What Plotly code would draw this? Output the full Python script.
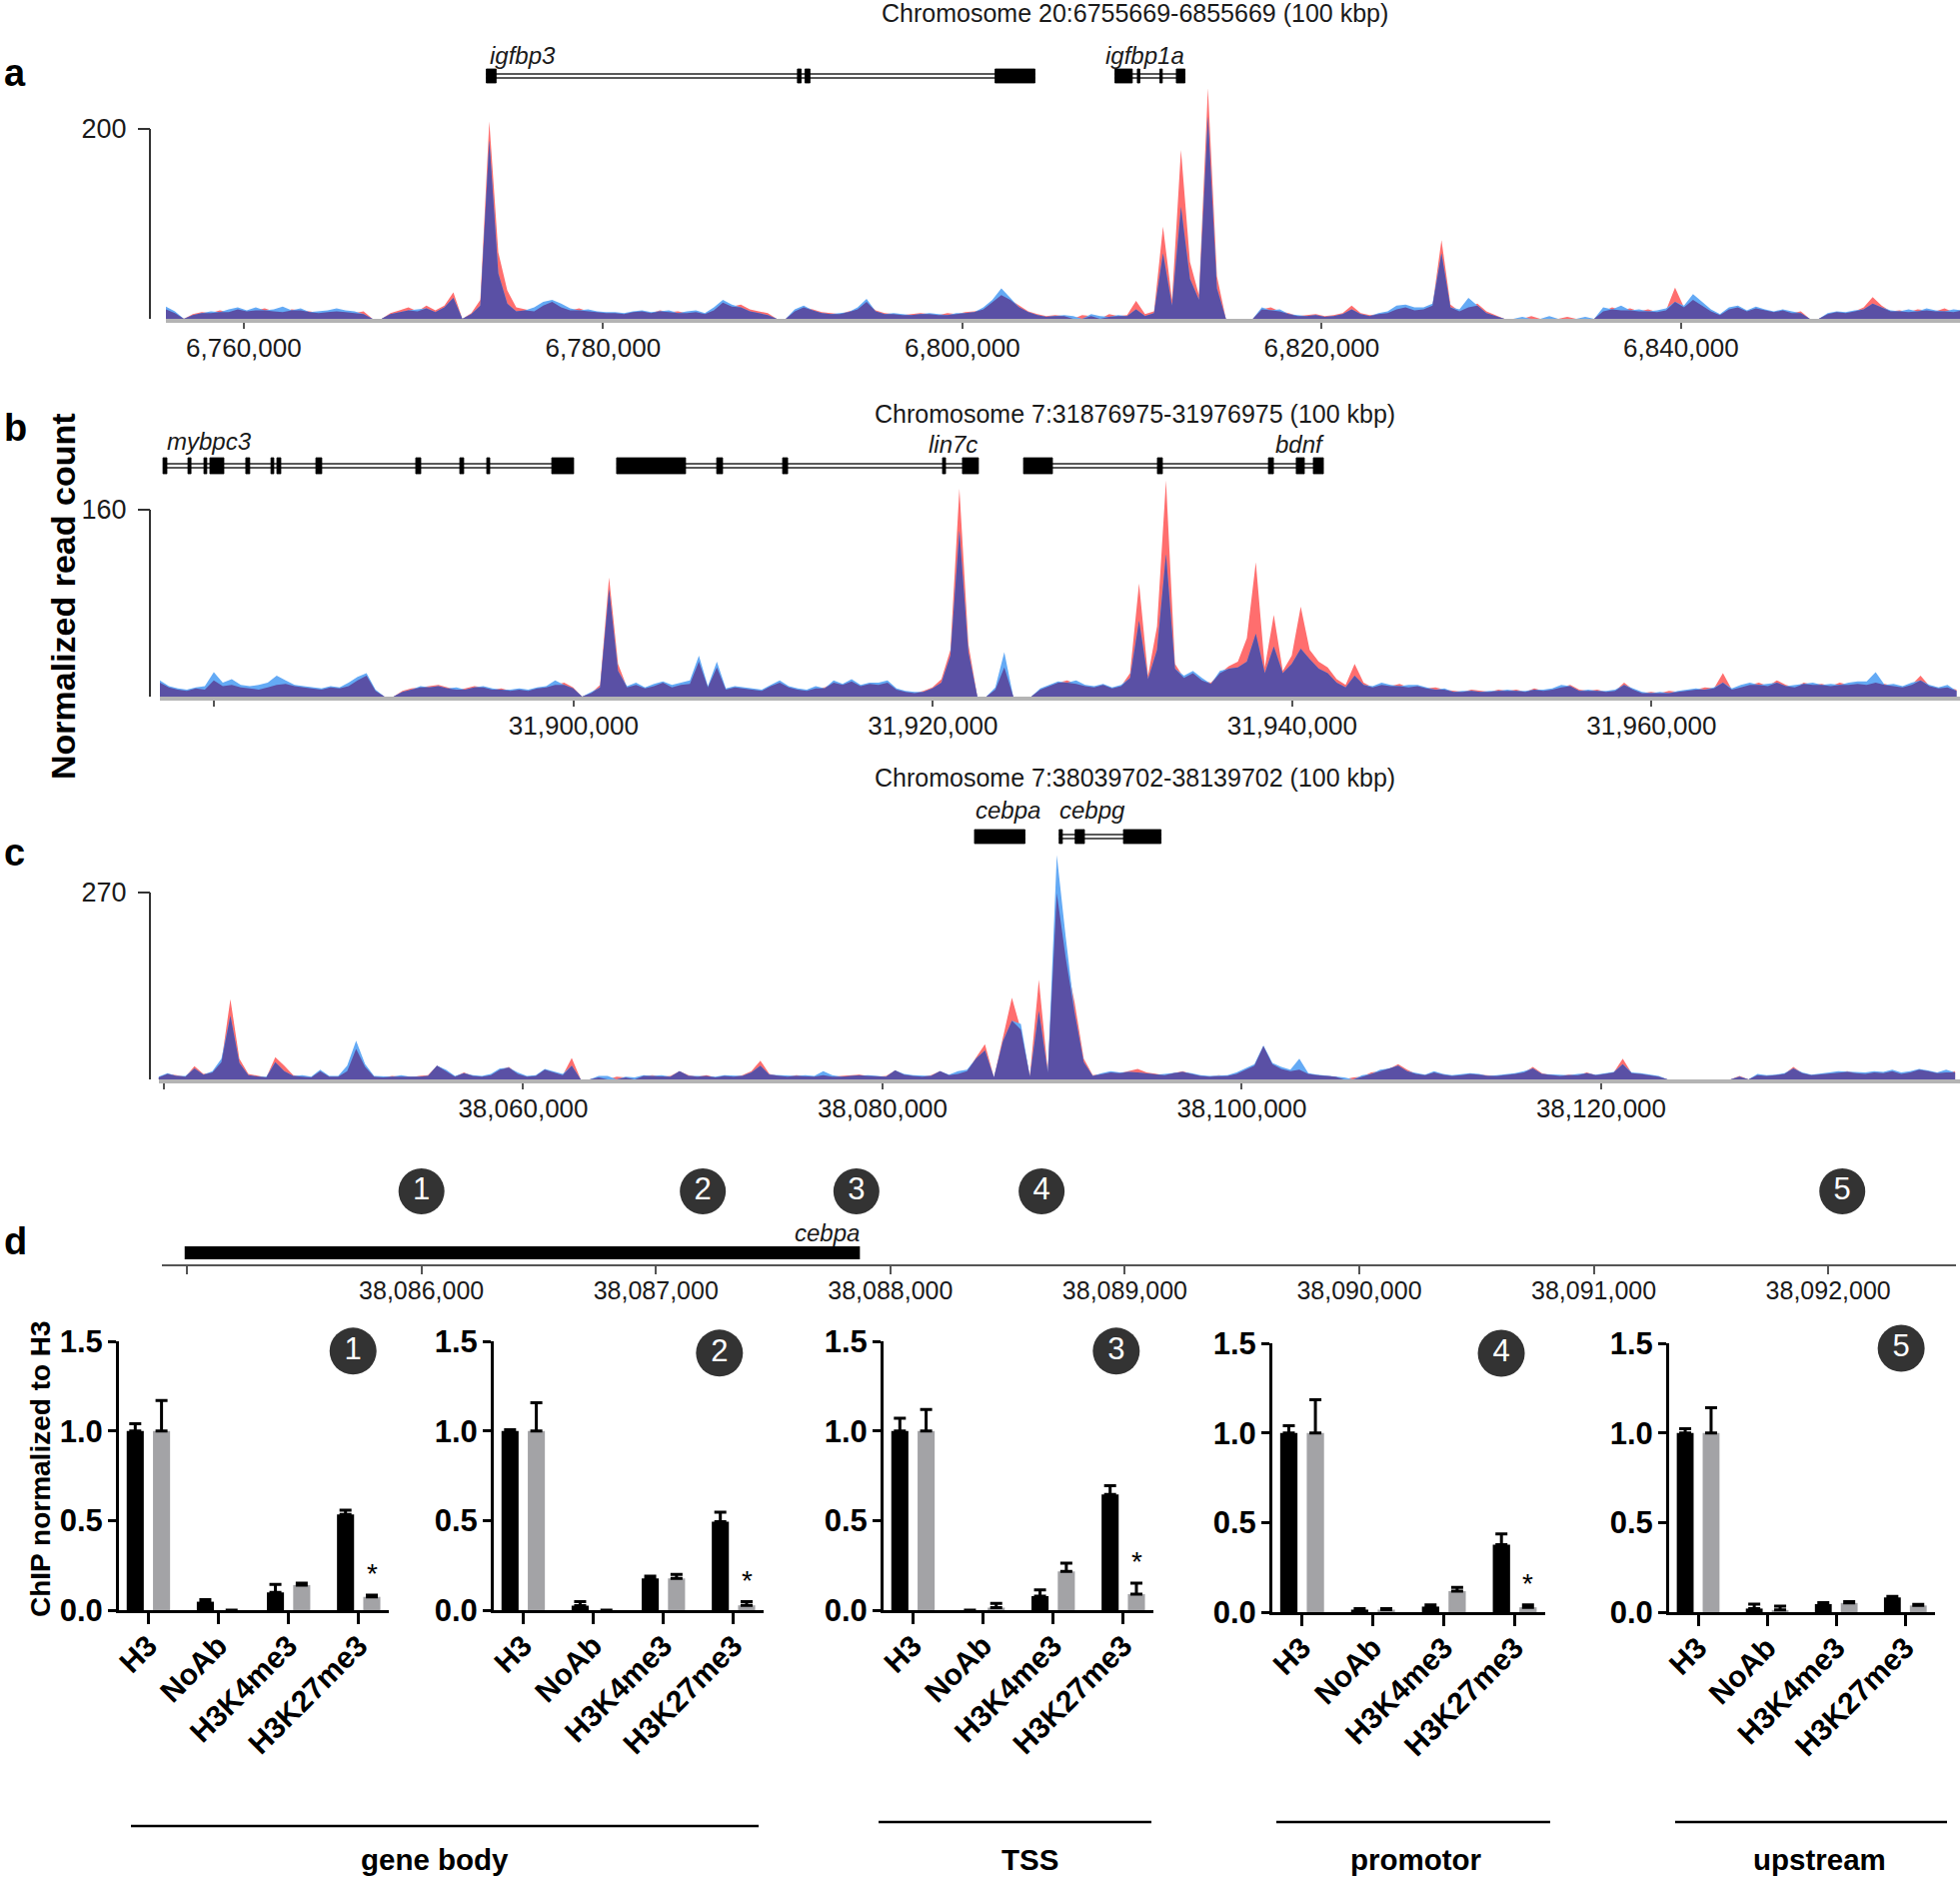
import plotly.graph_objects as go

W, H = 1961, 1880
FONT = "Liberation Sans, Arial, Helvetica, sans-serif"
RED, BLUE, PURPLE = "#ff6e6e", "#64aaf5", "#5a50a5"
BLACK_BAR, GRAY_BAR = "#000000", "#a3a3a6"
TXT = "#1a1a1a"
BIN_BP = 500

# ---------------- panel a : coverage (0.5 kb bins) ----------------
A_START = 6755669
A_TITLE = "Chromosome 20:6755669-6855669 (100 kbp)"
A_RED = [10, 6, 0, 5, 7, 6, 9, 7, 10, 8,
         9, 11, 8, 7, 10, 9, 8, 6, 7, 8,
         7, 6, 8, 0, 0, 6, 9, 12, 8, 14,
         9, 14, 28, 0, 6, 20, 208, 70, 30, 12,
         10, 8, 14, 18, 12, 9, 11, 8, 7, 6,
         6, 5, 7, 8, 6, 9, 7, 8, 6, 7,
         5, 9, 17, 13, 15, 10, 8, 6, 0, 0,
         8, 12, 10, 7, 6, 5, 8, 10, 18, 9,
         6, 5, 4, 5, 6, 5, 4, 6, 5, 7,
         8, 10, 18, 25, 20, 14, 8, 5, 3, 4,
         3, 0, 4, 3, 0, 5, 3, 4, 19, 5,
         8, 97, 20, 178, 60, 25, 243, 45, 0, 0,
         0, 0, 10, 12, 8, 6, 3, 4, 5, 3,
         4, 6, 14, 6, 4, 5, 6, 10, 12, 9,
         10, 14, 83, 15, 8, 12, 16, 8, 4, 0,
         0, 0, 3, 0, 0, 0, 2, 0, 0, 0,
         8, 12, 9, 11, 8, 10, 7, 9, 33, 12,
         20, 14, 8, 4, 10, 12, 8, 11, 9, 7,
         9, 6, 8, 0, 0, 5, 7, 6, 8, 12,
         23, 14, 8, 9, 7, 10, 9, 8, 11, 7, 10]
A_BLUE = [13, 8, 0, 4, 6, 8, 7, 10, 12, 9,
          12, 9, 10, 13, 9, 11, 7, 8, 9, 11,
          9, 8, 5, 0, 0, 5, 7, 9, 10, 11,
          7, 12, 22, 0, 5, 14, 188, 48, 16, 8,
          9, 12, 18, 20, 16, 11, 9, 10, 8, 7,
          7, 6, 8, 9, 7, 8, 9, 6, 8, 9,
          6, 12, 20, 15, 12, 8, 6, 4, 0, 0,
          10, 14, 9, 6, 5, 6, 7, 12, 21, 8,
          5, 6, 5, 4, 5, 6, 5, 4, 6, 6,
          7, 12, 20, 32, 22, 12, 7, 4, 2, 3,
          4, 3, 0, 5, 3, 2, 4, 3, 10, 3,
          6, 69, 14, 118, 42, 20, 213, 32, 0, 0,
          0, 0, 12, 9, 10, 5, 4, 3, 4, 2,
          3, 5, 10, 5, 3, 6, 8, 14, 15, 12,
          12, 16, 69, 12, 10, 22, 14, 6, 3, 0,
          0, 2, 0, 0, 3, 0, 0, 0, 2, 0,
          12, 10, 14, 9, 10, 8, 9, 11, 18, 14,
          26, 18, 10, 5, 12, 14, 9, 13, 10, 8,
          10, 8, 6, 0, 0, 6, 8, 7, 9, 10,
          16, 12, 9, 8, 10, 8, 11, 9, 8, 10, 9]
A_XTICKS = [6760000, 6780000, 6800000, 6820000, 6840000]
A_XTICKTEXT = ["6,760,000", "6,780,000", "6,800,000", "6,820,000", "6,840,000"]
A_YTICK = 200
A_GENES = [
    ("igfbp3", [(6773500, 6774050), (6790820, 6791030), (6791240, 6791520), (6801820, 6804040)]),
    ("igfbp1a", [(6808490, 6809460), (6809740, 6809880), (6810990, 6811130), (6811910, 6812390)]),
]

# ---------------- panel b ----------------
B_START = 31876975
B_TITLE = "Chromosome 7:31876975-31976975 (100 kbp)"
B_RED = [12, 8, 6, 5, 7, 6, 14, 9, 10, 8,
         7, 6, 8, 10, 11, 9, 8, 7, 6, 8,
         7, 9, 14, 18, 5, 0, 0, 5, 7, 8,
         9, 10, 8, 6, 7, 9, 8, 6, 7, 5,
         6, 5, 7, 8, 10, 12, 8, 0, 3, 10,
         102, 28, 8, 10, 7, 9, 12, 8, 10, 11,
         30, 8, 25, 6, 8, 7, 6, 5, 9, 12,
         8, 6, 5, 7, 8, 12, 10, 13, 9, 11,
         10, 12, 6, 4, 3, 5, 8, 15, 40, 178,
         45, 0, 0, 6, 25, 0, 0, 0, 6, 9,
         12, 14, 11, 9, 8, 10, 7, 9, 20, 97,
         18, 60, 185, 28, 16, 20, 14, 12, 20, 26,
         30, 50, 115, 25, 70, 22, 35, 77, 40, 30,
         25, 15, 10, 28, 12, 8, 10, 9, 11, 8,
         9, 7, 8, 6, 5, 4, 6, 5, 4, 6,
         5, 6, 4, 7, 5, 6, 8, 10, 6, 5,
         6, 4, 5, 12, 6, 3, 4, 3, 5, 4,
         5, 6, 8, 7, 20, 6, 8, 10, 12, 9,
         14, 10, 8, 12, 10, 11, 9, 12, 10, 11,
         10, 12, 11, 9, 8, 10, 18, 9, 7, 8, 6]
B_BLUE = [14, 9, 7, 6, 8, 9, 21, 12, 15, 10,
          9, 10, 12, 18, 14, 10, 9, 8, 7, 9,
          8, 12, 17, 20, 6, 0, 0, 4, 6, 9,
          8, 9, 7, 8, 6, 8, 9, 7, 6, 6,
          7, 6, 8, 9, 14, 10, 7, 0, 4, 8,
          92, 22, 9, 12, 8, 11, 13, 10, 12, 14,
          35, 9, 30, 7, 9, 8, 7, 6, 10, 14,
          9, 7, 6, 9, 7, 14, 11, 15, 10, 12,
          12, 14, 7, 5, 4, 4, 7, 12, 35, 142,
          38, 0, 0, 8, 38, 0, 0, 0, 7, 10,
          13, 12, 14, 10, 9, 11, 8, 10, 16, 65,
          15, 40, 122, 24, 18, 22, 16, 11, 22, 24,
          25, 30, 54, 20, 43, 20, 28, 41, 32, 24,
          20, 12, 8, 18, 10, 9, 12, 10, 9, 10,
          10, 8, 6, 7, 4, 5, 5, 4, 5, 5,
          6, 5, 5, 6, 6, 7, 10, 9, 5, 6,
          5, 5, 6, 10, 7, 4, 3, 4, 3, 5,
          6, 7, 6, 8, 12, 7, 10, 12, 10, 11,
          12, 9, 10, 11, 12, 10, 11, 10, 12, 13,
          13, 21, 10, 11, 9, 12, 14, 10, 8, 10, 5]
B_XTICKS = [31880000, 31900000, 31920000, 31940000, 31960000]
B_XTICKTEXT = ["", "31,900,000", "31,920,000", "31,940,000", "31,960,000"]
B_YTICK = 160
B_GENES = [
    ("mybpc3", [(31877145, 31877365), (31878535, 31878705), (31879425, 31879585), (31879755, 31880535),
                (31881755, 31881975), (31883155, 31883315), (31883485, 31883705), (31885655, 31885985),
                (31891215, 31891495), (31893665, 31893885), (31895165, 31895335), (31898785, 31900005)]),
    ("lin7c", [(31902395, 31906235), (31907965, 31908295), (31911635, 31911915), (31920535, 31920705),
               (31921645, 31922535)]),
    ("bdnf", [(31925045, 31926655), (31932495, 31932775), (31938675, 31938955), (31940225, 31940675),
              (31941175, 31941735)]),
]

# ---------------- panel c ----------------
C_START = 38039702
C_TITLE = "Chromosome 7:38039702-38139702 (100 kbp)"
C_RED = [3, 8, 6, 4, 19, 8, 10, 25, 116, 30,
         8, 5, 3, 32, 20, 6, 4, 3, 12, 4,
         4, 12, 44, 18, 4, 3, 5, 4, 3, 5,
         6, 20, 12, 4, 10, 5, 4, 6, 14, 18,
         8, 4, 5, 14, 10, 6, 31, 0, 0, 3,
         0, 4, 3, 0, 5, 6, 4, 5, 12, 6,
         4, 6, 3, 5, 4, 6, 12, 27, 8, 5,
         4, 6, 5, 4, 6, 4, 5, 6, 7, 5,
         4, 5, 13, 7, 5, 4, 6, 12, 6, 8,
         12, 32, 51, 3, 60, 118, 72, 5, 144, 12,
         269, 175, 110, 30, 6, 8, 10, 9, 12, 15,
         10, 8, 6, 9, 12, 8, 5, 4, 6, 5,
         8, 14, 20, 48, 22, 15, 12, 14, 8, 6,
         5, 4, 0, 3, 4, 10, 12, 15, 22, 14,
         8, 6, 10, 7, 5, 6, 8, 7, 6, 5,
         6, 8, 10, 18, 9, 6, 5, 7, 6, 10,
         6, 8, 10, 30, 9, 8, 6, 4, 0, 0,
         0, 0, 0, 0, 0, 0, 5, 0, 6, 5,
         6, 8, 18, 9, 6, 7, 8, 10, 12, 9,
         8, 10, 9, 12, 8, 10, 14, 12, 9, 10, 12]
C_BLUE = [4, 9, 5, 5, 16, 7, 12, 30, 92, 24,
          6, 4, 4, 25, 12, 5, 6, 4, 14, 5,
          5, 20, 56, 22, 5, 4, 4, 6, 4, 4,
          5, 20, 14, 5, 9, 6, 5, 8, 16, 17,
          10, 5, 6, 15, 12, 8, 20, 0, 0, 5,
          5, 0, 4, 3, 6, 5, 6, 4, 12, 5,
          5, 5, 4, 6, 5, 5, 10, 20, 7, 6,
          5, 5, 6, 5, 12, 6, 4, 5, 6, 6,
          5, 4, 13, 8, 6, 5, 5, 12, 7, 12,
          14, 30, 42, 3, 55, 85, 80, 4, 99, 10,
          324, 205, 95, 25, 5, 9, 12, 10, 11, 10,
          9, 7, 8, 10, 11, 9, 6, 5, 5, 6,
          10, 16, 22, 49, 24, 18, 14, 30, 9, 7,
          6, 5, 3, 0, 6, 8, 14, 16, 20, 12,
          9, 7, 12, 8, 6, 7, 9, 8, 5, 6,
          7, 9, 12, 16, 8, 7, 6, 6, 8, 9,
          7, 9, 11, 22, 10, 9, 7, 5, 0, 0,
          0, 0, 0, 0, 0, 0, 4, 0, 8, 6,
          7, 9, 16, 10, 7, 8, 10, 12, 11, 10,
          10, 12, 11, 14, 10, 12, 15, 13, 10, 14, 10]
C_XTICKS = [38040000, 38060000, 38080000, 38100000, 38120000]
C_XTICKTEXT = ["", "38,060,000", "38,080,000", "38,100,000", "38,120,000"]
C_YTICK = 270
C_GENES = [
    ("cebpa", [(38085120, 38087930)]),
    ("cebpg", [(38089832, 38090012), (38090722, 38091242), (38093412, 38095502)]),
]

# ---------------- panel d : gene model & primer sites ----------------
D_GENE = (38084990, 38087870)
D_SITES = [38086000, 38087200, 38087855, 38088645, 38092060]
D_SITE_LABELS = ["1", "2", "3", "4", "5"]
D_XTICKS = [38085000, 38086000, 38087000, 38088000, 38089000, 38090000, 38091000, 38092000]
D_XTICKTEXT = ["", "38,086,000", "38,087,000", "38,088,000", "38,089,000", "38,090,000", "38,091,000", "38,092,000"]

# ---------------- ChIP-qPCR bars ----------------
CATEGORIES = ["H3", "NoAb", "H3K4me3", "H3K27me3"]
BLACK_MEAN = [[1.0, 0.047, 0.099, 0.534],
              [1.0, 0.025, 0.177, 0.493],
              [1.0, 0.0, 0.078, 0.645],
              [1.0, 0.014, 0.031, 0.377],
              [1.0, 0.020, 0.045, 0.082]]
BLACK_SEM = [[0.040, 0.011, 0.045, 0.023],
             [0.007, 0.022, 0.013, 0.054],
             [0.070, 0.0, 0.035, 0.049],
             [0.040, 0.006, 0.010, 0.060],
             [0.023, 0.025, 0.008, 0.006]]
GRAY_MEAN = [[1.0, 0.0, 0.140, 0.074],
             [1.0, 0.0, 0.177, 0.027],
             [1.0, 0.014, 0.216, 0.089],
             [1.0, 0.014, 0.117, 0.027],
             [1.0, 0.012, 0.051, 0.037]]
GRAY_SEM = [[0.170, 0.0, 0.010, 0.010],
            [0.157, 0.0, 0.023, 0.020],
            [0.120, 0.023, 0.046, 0.061],
            [0.185, 0.006, 0.021, 0.013],
            [0.140, 0.021, 0.007, 0.006]]
SIGNIFICANT = [True, True, True, True, False]
REGION_GROUPS = [("gene body", 131, 759, 435), ("TSS", 879, 1152, 1030),
                 ("promotor", 1277, 1551, 1417), ("upstream", 1676, 1948, 1820)]


def PX(X):
    return X / W


def PY(Y):
    return 1 - Y / H


def axn(n, kind):
    return kind if n == 1 else f"{kind}{n}"


def axkey(n, kind):
    return f"{kind}axis" if n == 1 else f"{kind}axis{n}"


def note(text, X, Y, size, xanchor="center", yanchor="middle", **fontkw):
    return dict(text=text, x=PX(X), y=PY(Y), xref="paper", yref="paper", xanchor=xanchor,
                yanchor=yanchor, showarrow=False, font=dict(family=FONT, size=size, **fontkw))


fig = go.Figure()
shapes, annotations, layout = [], [], {}

# ---------- genome tracks ----------
TRACK_GEOM = [
    (1, A_START, A_RED, A_BLUE, A_XTICKS, A_XTICKTEXT, A_YTICK, A_GENES, A_TITLE, 166, 319, 129, 84, 76, 7, 13),
    (2, B_START, B_RED, B_BLUE, B_XTICKS, B_XTICKTEXT, B_YTICK, B_GENES, B_TITLE, 160, 697, 510, 470, 466, 8, 414),
    (3, C_START, C_RED, C_BLUE, C_XTICKS, C_XTICKTEXT, C_YTICK, C_GENES, C_TITLE, 158.6, 1080, 893, 850, 837, 7, 778),
]
BP_PER_PX = 1 / 0.017975

for (n, start, red, blue, xt, xtt, ytick, genes, title, x0, ybase, ytickY, ytop, gY, gh, tY) in TRACK_GEOM:
    xs = [start + i * BIN_BP for i in range(len(red))]
    purple = [min(r, b) for r, b in zip(red, blue)]
    for vals, col in ((red, RED), (blue, BLUE), (purple, PURPLE)):
        fig.add_trace(go.Scatter(x=xs, y=vals, mode="lines", line=dict(width=0, color=col),
                                 fill="tozeroy", fillcolor=col, xaxis=axn(n, "x"), yaxis=axn(n, "y"),
                                 hoverinfo="skip", showlegend=False))
    scale = (ybase - ytickY) / ytick
    layout[axkey(n, "x")] = dict(domain=[PX(x0), 1.0], range=[start, start + (W - x0) * BP_PER_PX],
                                  anchor=axn(n, "y"), showline=True, linecolor="#b4b4b4", linewidth=4,
                                  ticks="outside", ticklen=6, tickwidth=1.5, tickcolor="#555",
                                  ticklabelstandoff=-3,
                                  tickvals=xt, ticktext=xtt, showgrid=False, zeroline=False,
                                  tickfont=dict(family=FONT, size=26, color=TXT), automargin=False)
    layout[axkey(n, "y")] = dict(domain=[PY(ybase), PY(ytop)], range=[0, (ybase - ytop) / scale],
                                  anchor="free", position=PX(150), showline=False, showgrid=False,
                                  zeroline=False, ticks="outside", ticklen=12, tickwidth=2, tickcolor="#333",
                                  ticklabelstandoff=6,
                                  tickvals=[ytick], ticktext=[str(ytick)],
                                  tickfont=dict(family=FONT, size=27, color=TXT), automargin=False)
    shapes.append(dict(type="line", xref="paper", yref=axn(n, "y"), x0=PX(150), x1=PX(150),
                       y0=0, y1=ytick, line=dict(color="#333", width=2)))
    annotations.append(note(title, 1135, tY, 25, color=TXT))
    for name, exons in genes:
        gs, ge = exons[0][0], exons[-1][1]
        for dy in (-2, 2):
            shapes.append(dict(type="line", xref=axn(n, "x"), yref="paper", x0=gs, x1=ge,
                               y0=PY(gY + dy), y1=PY(gY + dy), line=dict(color="#222", width=1.3)))
        for s, e in exons:
            shapes.append(dict(type="rect", xref=axn(n, "x"), yref="paper", x0=s, x1=e,
                               y0=PY(gY + gh), y1=PY(gY - gh), fillcolor="black",
                               line=dict(width=0.8, color="black")))

GENE_LABELS = [("igfbp3", 488, 55, "left"), ("igfbp1a", 1104, 55, "left"),
               ("mybpc3", 165, 441, "left"), ("lin7c", 980, 444, "right"), ("bdnf", 1327, 444, "right"),
               ("cebpa", 974, 810, "left"), ("cebpg", 1058, 810, "left"), ("cebpa", 862, 1233, "right")]
for txt, X, Y, anc in GENE_LABELS:
    annotations.append(note(txt, X, Y, 24, xanchor=anc, color=TXT, style="italic"))

for lab, Y in (("a", 73), ("b", 428), ("c", 853), ("d", 1242)):
    annotations.append(note(lab, 2, Y, 38, xanchor="left", color="black", weight="bold"))

ylab = note("Normalized read count", 63, 597, 34, color="black", weight="bold")
ylab["textangle"] = -90
annotations.append(ylab)

# ---------- panel d ----------
layout["xaxis4"] = dict(domain=[PX(162), PX(1957)], range=[38084893, 38092545], anchor="y4",
                        showline=True, linecolor="#555", linewidth=2, ticks="outside", ticklen=8,
                        tickwidth=1.5, tickcolor="#555", tickvals=D_XTICKS, ticktext=D_XTICKTEXT,
                        ticklabelstandoff=-5,
                        showgrid=False, zeroline=False, tickfont=dict(family=FONT, size=25, color=TXT),
                        automargin=False)
layout["yaxis4"] = dict(domain=[PY(1265), PY(1165)], range=[0, 1], visible=False, showgrid=False,
                        zeroline=False)
shapes.append(dict(type="rect", xref="x4", yref="paper", x0=D_GENE[0], x1=D_GENE[1],
                   y0=PY(1260), y1=PY(1247), fillcolor="black", line=dict(width=0)))
fig.add_trace(go.Scatter(x=D_SITES, y=[0.73] * len(D_SITES), mode="markers+text", text=D_SITE_LABELS,
                         textposition="middle center",
                         textfont=dict(family=FONT, size=31, color="white"),
                         marker=dict(size=46, color="#333333", line=dict(width=0)),
                         xaxis="x4", yaxis="y4", cliponaxis=False, hoverinfo="skip", showlegend=False))

# ---------- bar panels ----------
BAR_GEOM = [  # x left, x right, y of 0, y of 1.5, circle x (data), circle y (data)
    (119, 389, 1611, 1342, 2.92, 1.445),
    (494, 764, 1611, 1342, 2.80, 1.434),
    (884, 1154, 1611, 1342, 2.90, 1.445),
    (1273, 1546, 1613, 1344, 2.81, 1.444),
    (1670, 1936, 1613, 1344, 2.94, 1.472),
]
for k, (xl, xr, y0p, y15, cx, cy) in enumerate(BAR_GEOM):
    n = 5 + k
    xa, ya = axn(n, "x"), axn(n, "y")
    fig.add_trace(go.Bar(x=[0, 1, 2, 3], y=BLACK_MEAN[k], marker=dict(color=BLACK_BAR, line=dict(width=0)),
                         error_y=dict(type="data", array=BLACK_SEM[k], arrayminus=[0] * 4, symmetric=False,
                                      color="black", thickness=3, width=6),
                         xaxis=xa, yaxis=ya, showlegend=False, hoverinfo="skip"))
    fig.add_trace(go.Bar(x=[0, 1, 2, 3], y=GRAY_MEAN[k], marker=dict(color=GRAY_BAR, line=dict(width=0)),
                         error_y=dict(type="data", array=GRAY_SEM[k], arrayminus=[0] * 4, symmetric=False,
                                      color="black", thickness=3, width=6),
                         xaxis=xa, yaxis=ya, showlegend=False, hoverinfo="skip"))
    fig.add_trace(go.Scatter(x=[cx], y=[cy], mode="markers+text", text=[str(k + 1)],
                             textposition="middle center", textfont=dict(family=FONT, size=31, color="white"),
                             marker=dict(size=47, color="#333333"), xaxis=xa, yaxis=ya,
                             cliponaxis=False, hoverinfo="skip", showlegend=False))
    layout[axkey(n, "x")] = dict(domain=[PX(xl), PX(xr)], range=[-0.42, 3.43], anchor=ya,
                                  showline=True, linecolor="black", linewidth=3, ticks="outside",
                                  ticklen=11, tickwidth=3, tickcolor="black", tickvals=[0, 1, 2, 3],
                                  ticktext=CATEGORIES, tickangle=-45, showgrid=False, zeroline=False,
                                  ticklabelstandoff=-8,
                                  tickfont=dict(family=FONT, size=30, color="black", weight="bold"),
                                  automargin=False)
    layout[axkey(n, "y")] = dict(domain=[PY(y0p), PY(y15)], range=[0, 1.5], anchor=xa,
                                  showline=True, linecolor="black", linewidth=3, ticks="outside",
                                  ticklen=8, tickwidth=3, tickcolor="black", tickvals=[0, 0.5, 1.0, 1.5],
                                  ticktext=["0.0", "0.5", "1.0", "1.5"], showgrid=False, zeroline=False,
                                  ticklabelstandoff=-1,
                                  tickfont=dict(family=FONT, size=31, color="black", weight="bold"),
                                  automargin=False)
    if SIGNIFICANT[k]:
        annotations.append(dict(text="*", xref=xa, yref=ya, x=3.19, y=GRAY_MEAN[k][3] + GRAY_SEM[k][3],
                                xanchor="center", yanchor="bottom", yshift=4, showarrow=False,
                                font=dict(family=FONT, size=28, color="black")))

chip = note("ChIP normalized to H3", 40, 1470, 28, color="black", weight="bold")
chip["textangle"] = -90
annotations.append(chip)

for label, xa0, xa1, xc in REGION_GROUPS:
    yl = 1827 if label == "gene body" else 1823
    shapes.append(dict(type="line", xref="paper", yref="paper", x0=PX(xa0), x1=PX(xa1),
                       y0=PY(yl), y1=PY(yl), line=dict(color="black", width=2.5)))
    annotations.append(note(label, xc, 1860, 29.5, color="black", weight="bold"))

fig.update_layout(width=W, height=H, margin=dict(l=0, r=0, t=0, b=0), autosize=False,
                  template="none", plot_bgcolor="white", paper_bgcolor="white",
                  barmode="group", bargap=0.25, bargroupgap=0.35, showlegend=False,
                  shapes=shapes, annotations=annotations, **layout)
fig.write_html("out.html", config={"displayModeBar": False},
               post_script="document.body.style.margin='0px';")
